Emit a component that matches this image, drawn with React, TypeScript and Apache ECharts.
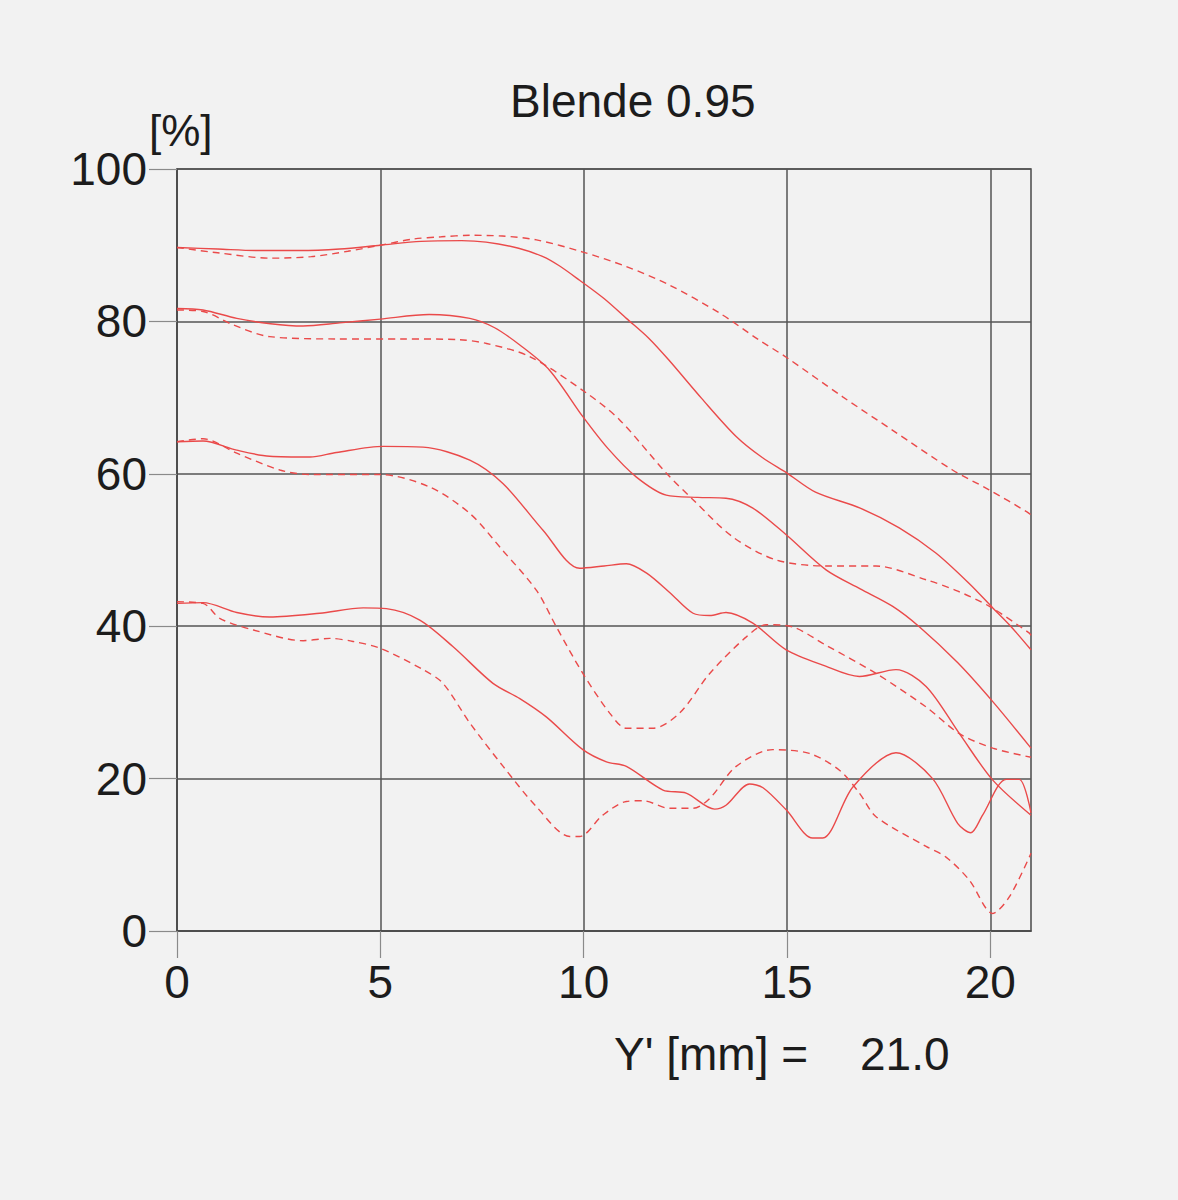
import React, { useEffect, useRef } from "react";
import * as echarts from "echarts";

const titleText = "Blende 0.95";
const unitText = "[%]";
const footLabel = "Y' [mm] =";
const footValue = "21.0";
const xTicks = [0, 5, 10, 15, 20];
const yTicks = [0, 20, 40, 60, 80, 100];

// Curve 1 (top, ~90%)
const c1SolidX = [0, 1, 2, 3, 4, 5, 6, 7, 7.6, 8.4, 9.0, 9.4, 9.9, 10.5, 11.05, 11.6, 12.1, 12.9, 13.75, 14.4, 15.0, 15.7, 16.8, 17.76, 18.66, 19.48, 20.06, 20.5, 21];
const c1SolidY = [89.7, 89.5, 89.3, 89.3, 89.5, 90.0, 90.5, 90.6, 90.4, 89.6, 88.5, 87.3, 85.4, 83.0, 80.4, 77.8, 74.9, 69.9, 64.9, 62.1, 60.1, 57.6, 55.5, 52.9, 49.6, 45.6, 42.4, 40.0, 36.9];
const c1DashX = [0, 1, 2.3, 3.3, 4.2, 5, 5.8, 6.5, 7.2, 8.0, 8.84, 9.98, 11.05, 12.1, 13.34, 14.3, 14.98, 16.37, 17.6, 19.07, 19.97, 20.9, 21];
const c1DashY = [89.7, 89.0, 88.3, 88.5, 89.2, 90.0, 90.8, 91.1, 91.3, 91.2, 90.7, 89.1, 87.2, 84.8, 81.1, 77.6, 75.3, 70.1, 65.7, 60.5, 57.9, 55.0, 54.6];

// Curve 2 (~81%)
const c2SolidX = [0, 0.64, 1.47, 2.3, 3.1, 4.0, 5, 6.2, 7.2, 7.8, 8.43, 9.16, 9.98, 10.6, 11.29, 12.03, 12.8, 13.5, 14.16, 14.98, 15.96, 16.8, 17.6, 18.26, 19.2, 20.06, 21];
const c2SolidY = [81.7, 81.5, 80.4, 79.7, 79.4, 79.8, 80.3, 80.9, 80.4, 79.2, 76.9, 73.6, 67.5, 63.3, 59.6, 57.2, 56.9, 56.8, 55.5, 52.0, 47.4, 44.9, 42.6, 39.9, 35.2, 30.1, 24.0];
const c2DashX = [0, 0.64, 1.4, 2.28, 3.92, 5.56, 6.95, 7.61, 8.67, 10.07, 10.88, 12.03, 12.69, 13.67, 14.73, 15.96, 17.19, 18.42, 19.2, 19.98, 20.96, 21];
const c2DashY = [81.5, 81.3, 79.5, 78.0, 77.7, 77.7, 77.6, 77.1, 75.4, 70.6, 67.1, 60.1, 56.6, 51.7, 48.7, 47.9, 47.9, 46.1, 44.6, 42.6, 39.1, 38.8];

// Curve 3 (~64%)
const c3SolidX = [0, 0.64, 1.47, 2.28, 3.27, 3.92, 5.07, 6.05, 7.2, 8.02, 9.0, 9.9, 10.5, 11.05, 11.54, 12.1, 12.69, 13.1, 13.5, 14.16, 14.98, 15.88, 16.78, 17.68, 18.42, 19.24, 20.06, 21];
const c3SolidY = [64.2, 64.3, 63.1, 62.3, 62.2, 62.8, 63.6, 63.5, 61.8, 58.7, 52.6, 47.6, 47.9, 48.2, 47.0, 44.5, 41.7, 41.4, 41.8, 40.4, 36.9, 34.9, 33.4, 34.3, 32.1, 25.9, 19.8, 15.2];
const c3DashX = [0, 0.64, 1.47, 2.53, 3.27, 5, 6.2, 7.2, 8.0, 8.84, 9.33, 9.98, 10.64, 11.05, 11.7, 12.36, 13.1, 14.0, 14.49, 15.14, 15.96, 17.19, 18.42, 19.24, 20.06, 21];
const c3DashY = [64.2, 64.6, 62.7, 60.5, 59.9, 59.9, 58.3, 54.8, 50.0, 44.7, 39.9, 33.8, 28.6, 26.6, 26.6, 28.6, 33.8, 38.6, 40.2, 39.9, 37.5, 33.8, 29.4, 25.9, 24.0, 22.8];

// Curve 4 (~43%)
const c4SolidX = [0, 0.64, 1.47, 2.28, 3.51, 4.58, 5.15, 5.97, 6.79, 7.77, 8.43, 9.08, 9.98, 10.56, 11.05, 11.95, 12.52, 13.22, 13.5, 14.08, 14.41, 14.98, 15.63, 15.88, 16.62, 17.68, 18.58, 19.2, 19.52, 19.81, 20.39, 20.71, 21];
const c4SolidY = [43.0, 43.1, 41.8, 41.2, 41.7, 42.4, 42.3, 40.8, 37.3, 32.5, 30.5, 28.1, 23.8, 22.2, 21.6, 18.5, 18.1, 16.0, 16.5, 19.3, 18.8, 15.9, 12.2, 12.2, 18.9, 23.4, 20.0, 14.1, 12.9, 15.2, 19.9, 19.9, 15.5];
const c4DashX = [0, 0.64, 1.06, 1.88, 3.1, 3.76, 4.33, 5, 6.05, 6.54, 7.2, 8.02, 8.84, 9.66, 9.9, 10.47, 11.05, 11.46, 12.11, 12.69, 13.1, 13.75, 14.65, 15.55, 16.29, 16.78, 17.19, 18.42, 18.91, 19.48, 20.06, 20.47, 21];
const c4DashY = [43.2, 43.0, 41.0, 39.5, 38.1, 38.4, 38.0, 37.1, 34.3, 32.5, 27.3, 21.6, 16.3, 12.4, 12.4, 15.2, 17.0, 17.1, 16.1, 16.1, 17.4, 21.6, 23.8, 23.3, 21.1, 18.1, 15.0, 11.1, 9.7, 6.7, 2.3, 4.5, 10.2];

const RED = "#ea4a4a";
const FONT = "Liberation Sans";
const TEXT = "#1c1c1c";

const zip = (xs: number[], ys: number[]) => xs.map((x, i) => [x, ys[i]]);

export default function App() {
  const ref = useRef<HTMLDivElement>(null);
  useEffect(() => {
    document.body.style.margin = "0";
    document.body.style.background = "#f2f2f2";
    const chart = echarts.init(ref.current!, null, { renderer: "svg" });
    const mk = (xs: number[], ys: number[], dashed: boolean) => ({
      type: "line",
      data: zip(xs, ys),
      showSymbol: false,
      smooth: 0.3,
      lineStyle: { color: RED, width: 1.4, type: dashed ? [7, 5] : "solid" },
      z: 5,
    });
    chart.setOption({
      animation: false,
      backgroundColor: "#f2f2f2",
      grid: {
        left: 177,
        top: 169,
        width: 854,
        height: 762,
        show: true,
        borderColor: "#4a4a4a",
        borderWidth: 1.5,
      },
      xAxis: {
        type: "value",
        min: 0,
        max: 21,
        interval: 5,
        axisLine: { show: true, lineStyle: { color: "#4a4a4a", width: 1.5 } },
        axisTick: {
          show: true,
          inside: false,
          length: 27,
          customValues: xTicks,
          lineStyle: { color: "#8a8a8a", width: 1.2 },
        },
        splitLine: { show: true, lineStyle: { color: "#555", width: 1.5 } },
        axisLabel: {
          fontFamily: FONT,
          fontSize: 46,
          color: TEXT,
          margin: 28,
          customValues: xTicks,
        },
      },
      yAxis: {
        type: "value",
        min: 0,
        max: 100,
        interval: 20,
        axisLine: { show: true, lineStyle: { color: "#4a4a4a", width: 1.5 } },
        axisTick: {
          show: true,
          inside: false,
          length: 28,
          customValues: yTicks,
          lineStyle: { color: "#8a8a8a", width: 1.2 },
        },
        splitLine: { show: true, lineStyle: { color: "#555", width: 1.5 } },
        axisLabel: {
          fontFamily: FONT,
          fontSize: 46,
          color: TEXT,
          margin: 30,
          customValues: yTicks,
        },
      },
      graphic: [
        {
          type: "text",
          left: 510,
          top: 78,
          style: { text: titleText, fontFamily: FONT, fontSize: 46, fill: TEXT },
        },
        {
          type: "text",
          left: 149,
          top: 108,
          style: { text: unitText, fontFamily: FONT, fontSize: 44, fill: TEXT },
        },
        {
          type: "text",
          left: 614,
          top: 1031,
          style: { text: footLabel, fontFamily: FONT, fontSize: 46, fill: TEXT },
        },
        {
          type: "text",
          left: 860,
          top: 1031,
          style: { text: footValue, fontFamily: FONT, fontSize: 46, fill: TEXT },
        },
      ],
      series: [
        mk(c1SolidX, c1SolidY, false),
        mk(c1DashX, c1DashY, true),
        mk(c2SolidX, c2SolidY, false),
        mk(c2DashX, c2DashY, true),
        mk(c3SolidX, c3SolidY, false),
        mk(c3DashX, c3DashY, true),
        mk(c4SolidX, c4SolidY, false),
        mk(c4DashX, c4DashY, true),
      ],
    });
    return () => chart.dispose();
  }, []);
  return <div ref={ref} style={{ width: 1178, height: 1200 }} />;
}
